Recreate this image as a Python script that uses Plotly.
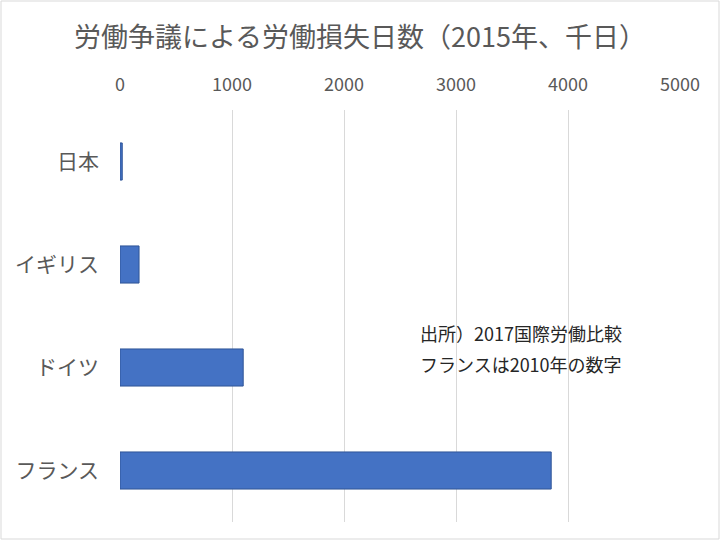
import plotly.graph_objects as go

# 労働損失日数（2015年、千日）
countries = ['日本', 'イギリス', 'ドイツ', 'フランス']
days_lost = [20, 170, 1100, 3850]
x_ticks = [0, 1000, 2000, 3000, 4000, 5000]

note_lines = ['出所）2017国際労働比較', 'フランスは2010年の数字']

font_jp = 'Noto Sans CJK JP'

# 図の大きさと余白（Excel風の配置）
W, H = 720, 540
L, R, T, B = 120, 40, 110, 18
pw, ph = W - L - R, H - T - B

fig = go.Figure(data=[
    go.Bar(
        x=days_lost,
        y=countries,
        orientation='h',
        width=0.36,
        marker=dict(color='#4472C4', line=dict(color='#2F5597', width=1)),
    )
])

fig.update_layout(
    width=W,
    height=H,
    paper_bgcolor='white',
    plot_bgcolor='white',
    showlegend=False,
    margin=dict(l=L, r=R, t=T, b=B, autoexpand=False),
    title=dict(
        text='労働争議による労働損失日数（2015年、千日）',
        x=0.5, xanchor='center', y=1 - 38 / H, yanchor='middle',
        font=dict(family=font_jp, size=27, color='#595959'),
    ),
    font=dict(family=font_jp, color='#595959'),
    xaxis=dict(
        side='top',
        range=[0, 5000],
        tickvals=x_ticks,
        tickfont=dict(size=18, color='#595959'),
        showgrid=True,
        gridcolor='#D9D9D9',
        gridwidth=1,
        zeroline=False,
        showline=False,
        ticks='',
        ticklabelstandoff=14,
        automargin=False,
    ),
    yaxis=dict(
        autorange='reversed',
        tickfont=dict(size=21, color='#595959'),
        showgrid=False,
        zeroline=False,
        showline=False,
        ticks='',
        ticklabelstandoff=20,
        automargin=False,
    ),
    annotations=[
        dict(
            text=line,
            xref='paper', yref='paper',
            x=(418 - L) / pw, y=(H - B - yy) / ph,
            xanchor='left', yanchor='middle',
            align='left', showarrow=False,
            font=dict(family=font_jp, size=18, color='#262626'),
        )
        for line, yy in zip(note_lines, [333, 364])
    ],
    shapes=[
        dict(
            type='rect', xref='paper', yref='paper',
            x0=-(L - 1) / pw, x1=1 + (R - 1) / pw,
            y0=-(B - 1) / ph, y1=1 + (T - 1) / ph,
            line=dict(color='#D9D9D9', width=1),
        )
    ],
)

# ページ既定の余白(8px)を消す
fig.write_html('out.html', config={'displayModeBar': False},
               post_script="document.body.style.margin='0';")
